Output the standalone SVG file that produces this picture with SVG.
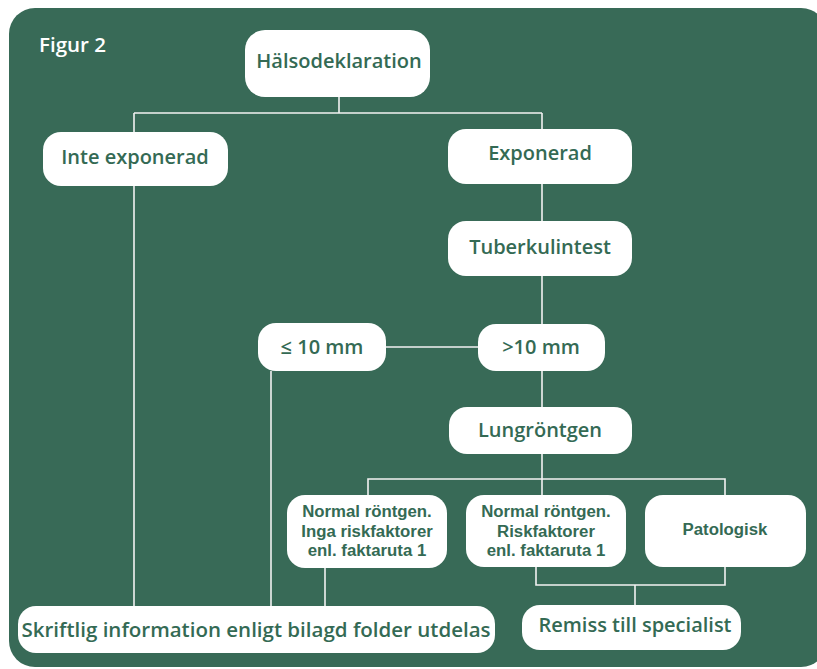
<svg xmlns="http://www.w3.org/2000/svg" width="817" height="669" viewBox="0 0 817 669">
  <style>
    .bg { fill: #386a57; }
    .box { fill: #ffffff; }
    .t { font-family: "Open Sans", "Noto Sans", "Liberation Sans", sans-serif; font-weight: 600; fill: #346a54; text-anchor: middle; font-size: 20px; }
    .s { font-family: "Liberation Sans", Arial, sans-serif; font-weight: 700; font-size: 16.8px; }
    .title { font-family: "Open Sans", "Noto Sans", "Liberation Sans", sans-serif; font-weight: 600; fill: #ffffff; font-size: 20.5px; }
    .c { fill: none; stroke: #f2f2f2; stroke-width: 1.6; }
  </style>
  <rect width="817" height="669" fill="#ffffff"/>
  <rect class="bg" x="9" y="8" width="818" height="659" rx="26" ry="26"/>
  <text class="title" x="39" y="52">Figur 2</text>

  <g id="connectors">
    <path class="c" d="M339,97 V113 M134,113 H542 M134,113 V132 M542,113 V129"/>
    <path class="c" d="M134,186 V606"/>
    <path class="c" d="M542,184 V221 M542,276 V324"/>
    <path class="c" d="M386,347 H478"/>
    <path class="c" d="M271,371 V606"/>
    <path class="c" d="M542,371 V407 M542,454 V495"/>
    <path class="c" d="M368,495 V479 H725 V495"/>
    <path class="c" d="M325,568 V606"/>
    <path class="c" d="M536,567 V585 H725 V567 M635,585 V605"/>
  </g>

  <g id="halsodeklaration">
    <rect class="box" x="245" y="30" width="185" height="67" rx="20"/>
    <text class="t" x="339" y="68">Hälsodeklaration</text>
  </g>
  <g id="inte-exponerad">
    <rect class="box" x="43" y="132" width="185" height="54" rx="18"/>
    <text class="t" x="135" y="164">Inte exponerad</text>
  </g>
  <g id="exponerad">
    <rect class="box" x="448" y="129" width="184" height="55" rx="18"/>
    <text class="t" x="540" y="160">Exponerad</text>
  </g>
  <g id="tuberkulintest">
    <rect class="box" x="448" y="221" width="184" height="55" rx="18"/>
    <text class="t" x="540" y="254">Tuberkulintest</text>
  </g>
  <g id="le10">
    <rect class="box" x="258" y="323" width="128" height="48" rx="18"/>
    <text class="t" x="322" y="354">≤ 10 mm</text>
  </g>
  <g id="gt10">
    <rect class="box" x="478" y="324" width="127" height="47" rx="18"/>
    <text class="t" x="541" y="354">&gt;10 mm</text>
  </g>
  <g id="lungrontgen">
    <rect class="box" x="449" y="407" width="183" height="47" rx="18"/>
    <text class="t" x="540" y="437">Lungröntgen</text>
  </g>
  <g id="normal-inga">
    <rect class="box" x="287" y="495" width="160" height="73" rx="18"/>
    <text class="t s" x="367" y="517">Normal röntgen.</text>
    <text class="t s" x="367" y="536.5">Inga riskfaktorer</text>
    <text class="t s" x="367" y="556">enl. faktaruta 1</text>
  </g>
  <g id="normal-risk">
    <rect class="box" x="466" y="495" width="160" height="72" rx="18"/>
    <text class="t s" x="546" y="517">Normal röntgen.</text>
    <text class="t s" x="546" y="536.5">Riskfaktorer</text>
    <text class="t s" x="546" y="556">enl. faktaruta 1</text>
  </g>
  <g id="patologisk">
    <rect class="box" x="645" y="495" width="161" height="72" rx="18"/>
    <text class="t s" x="725" y="535">Patologisk</text>
  </g>
  <g id="skriftlig">
    <rect class="box" x="18" y="606" width="477" height="47" rx="18"/>
    <text class="t" x="256" y="637" style="font-size:20.5px">Skriftlig information enligt bilagd folder utdelas</text>
  </g>
  <g id="remiss">
    <rect class="box" x="522" y="605" width="219" height="45" rx="18"/>
    <text class="t" x="635" y="632">Remiss till specialist</text>
  </g>
</svg>
